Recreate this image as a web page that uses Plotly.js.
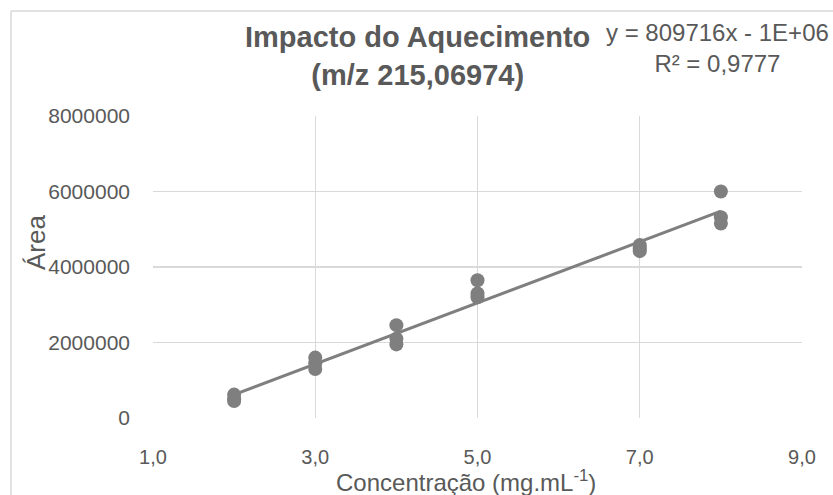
<!DOCTYPE html>
<html>
<head>
<meta charset="utf-8">
<script src="https://cdn.plot.ly/plotly-3.0.1.min.js"></script>
<style>
  html, body { margin: 0; padding: 0; background: #fff; }
  #chart { width: 833px; height: 495px; }
</style>
</head>
<body>
<div id="chart"></div>
<script>
// Concentration (mg/mL) and peak area for m/z 215,06974, three replicates per level
const concentracao = [2, 2, 2, 3, 3, 3, 4, 4, 4, 5, 5, 5, 7, 7, 7, 8, 8, 8];
const area = [620000, 500000, 450000,
              1600000, 1450000, 1300000,
              2460000, 2100000, 1950000,
              3650000, 3300000, 3200000,
              4580000, 4500000, 4420000,
              6000000, 5320000, 5150000];

// Linear trendline as reported in the equation label
const slope = 809716;
const intercept = -1e6;
const r2Text = '0,9777';

const xTickVals = [1, 3, 5, 7, 9];
const xTickText = ['1,0', '3,0', '5,0', '7,0', '9,0'];
const yTickVals = [0, 2000000, 4000000, 6000000, 8000000];
const yTickText = ['0', '2000000', '4000000', '6000000', '8000000'];

const W = 833, H = 495;
const M = { l: 153, r: 31, t: 116, b: 77 };
const pw = W - M.l - M.r, ph = H - M.t - M.b;
const px = x => (x - M.l) / pw;        // pixel -> paper x
const py = y => (H - M.b - y) / ph;    // pixel -> paper y

const xMin = Math.min(...concentracao), xMax = Math.max(...concentracao);
const fitX = [xMin, xMax];
const fitY = fitX.map(x => slope * x + intercept);

const grey = '#595959';
const font = 'Liberation Sans, Arial, sans-serif';

const traces = [
  {
    x: concentracao, y: area, type: 'scatter', mode: 'markers',
    marker: { size: 14, color: '#7f7f7f' }, hoverinfo: 'x+y'
  },
  {
    x: fitX, y: fitY, type: 'scatter', mode: 'lines',
    line: { color: '#7f7f7f', width: 3 }, hoverinfo: 'skip'
  }
];

const layout = {
  width: W, height: H,
  margin: M,
  showlegend: false,
  paper_bgcolor: '#fff', plot_bgcolor: '#fff',
  font: { family: font, color: grey, size: 20 },
  xaxis: {
    range: [1, 9], tickvals: xTickVals, ticktext: xTickText,
    showgrid: true, gridcolor: '#d9d9d9', gridwidth: 1.3,
    zeroline: false, showline: false, ticks: '',
    ticklabelstandoff: 25,
    tickfont: { size: 20, color: grey, family: font }
  },
  yaxis: {
    range: [0, 8000000], tickvals: yTickVals, ticktext: yTickText,
    showgrid: true, gridcolor: '#d9d9d9', gridwidth: 1.3,
    zeroline: false, showline: false, ticks: '',
    ticklabelstandoff: 22,
    tickfont: { size: 21, color: grey, family: font }
  },
  shapes: [
    // chart frame
    { type: 'line', xref: 'paper', yref: 'paper', x0: px(11), x1: px(11), y0: py(11), y1: py(H + 5),
      line: { color: '#d9d9d9', width: 1.5 } },
    { type: 'line', xref: 'paper', yref: 'paper', x0: px(11), x1: px(W + 5), y0: py(11), y1: py(11),
      line: { color: '#d9d9d9', width: 1.5 } }
  ],
  annotations: [
    { xref: 'paper', yref: 'paper', x: px(417), y: py(19), xanchor: 'center', yanchor: 'top',
      text: '<b>Impacto do Aquecimento<br>(m/z 215,06974)</b>', showarrow: false,
      font: { size: 29, color: grey, family: font } },
    { xref: 'paper', yref: 'paper', x: px(717), y: py(17), xanchor: 'center', yanchor: 'top',
      text: 'y = ' + slope + 'x - 1E+06<br>R² = ' + r2Text, showarrow: false,
      font: { size: 24, color: grey, family: font } },
    { xref: 'paper', yref: 'paper', x: px(466), y: py(481), xanchor: 'center', yanchor: 'middle',
      text: 'Concentração (mg.mL<sup>-1</sup>)', showarrow: false,
      font: { size: 24, color: grey, family: font } },
    { xref: 'paper', yref: 'paper', x: px(36), y: py(243), xanchor: 'center', yanchor: 'middle',
      text: 'Área', textangle: -90, showarrow: false,
      font: { size: 26, color: grey, family: font } }
  ]
};

Plotly.newPlot('chart', traces, layout, { displayModeBar: false, staticPlot: true });
</script>
</body>
</html>
